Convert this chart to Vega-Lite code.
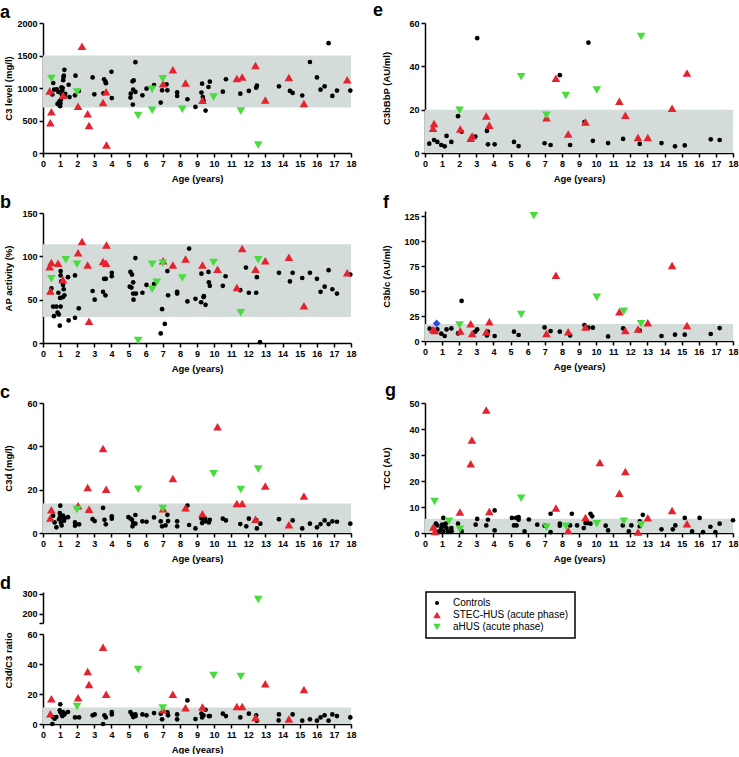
{
"$schema":"https://vega.github.io/schema/vega-lite/v6.json",
"padding":{"left":0,"top":2,"right":0,"bottom":0},
"background":"white",
"config":{
 "view":{"stroke":null},
 "font":"Liberation Sans",
 "axis":{"domainColor":"#000","domainWidth":1.5,"tickColor":"#000","tickWidth":1.5,"tickSize":4,"labelFont":"Liberation Sans","labelFontSize":9,"labelFontWeight":"bold","labelColor":"#000","labelPadding":2,"titleFont":"Liberation Sans","titleFontSize":9.5,"titleFontWeight":"bold","titleColor":"#000","grid":false,"format":"d"},
 "axisX":{"titlePadding":5,"labelFlush":false,"labelOverlap":false},
 "axisY":{"titleX":-30,"labelOverlap":false},
 "title":{"anchor":"start","frame":"group","fontSize":18,"fontWeight":"bold","font":"Liberation Sans","color":"#000","offset":-3,"baseline":"alphabetic"},
 "legend":{"orient":"none","legendX":383,"legendY":569,"strokeColor":"#000","strokeWidth":1.5,"padding":6,"labelFont":"Liberation Sans","labelFontSize":10,"labelColor":"#000","rowPadding":2,"labelOffset":11,"symbolStrokeWidth":0}
},
"datasets":{
"a":[
{"x":0.6,"y":1077,"g":"Controls"},{"x":0.65,"y":975,"g":"Controls"},{"x":0.55,"y":900,"g":"Controls"},{"x":0.8,"y":980,"g":"Controls"},{"x":0.85,"y":755,"g":"Controls"},{"x":0.9,"y":940,"g":"Controls"},{"x":0.95,"y":790,"g":"Controls"},{"x":1.0,"y":720,"g":"Controls"},{"x":1.02,"y":760,"g":"Controls"},{"x":1.05,"y":820,"g":"Controls"},{"x":1.08,"y":1010,"g":"Controls"},{"x":1.1,"y":900,"g":"Controls"},{"x":1.12,"y":960,"g":"Controls"},{"x":1.15,"y":1000,"g":"Controls"},{"x":1.18,"y":1120,"g":"Controls"},{"x":1.2,"y":1170,"g":"Controls"},{"x":1.25,"y":1280,"g":"Controls"},{"x":1.22,"y":1190,"g":"Controls"},{"x":1.25,"y":870,"g":"Controls"},{"x":1.3,"y":910,"g":"Controls"},{"x":1.5,"y":1050,"g":"Controls"},{"x":1.55,"y":860,"g":"Controls"},{"x":1.87,"y":888,"g":"Controls"},{"x":1.9,"y":1189,"g":"Controls"},{"x":2.09,"y":954,"g":"Controls"},{"x":2.9,"y":1163,"g":"Controls"},{"x":3.0,"y":903,"g":"Controls"},{"x":3.53,"y":918,"g":"Controls"},{"x":3.57,"y":1133,"g":"Controls"},{"x":3.65,"y":1097,"g":"Controls"},{"x":3.68,"y":1075,"g":"Controls"},{"x":4.0,"y":1250,"g":"Controls"},{"x":4.02,"y":845,"g":"Controls"},{"x":5.11,"y":852,"g":"Controls"},{"x":5.13,"y":913,"g":"Controls"},{"x":5.23,"y":1102,"g":"Controls"},{"x":5.3,"y":1117,"g":"Controls"},{"x":5.27,"y":975,"g":"Controls"},{"x":5.25,"y":745,"g":"Controls"},{"x":5.4,"y":1398,"g":"Controls"},{"x":5.4,"y":939,"g":"Controls"},{"x":5.81,"y":888,"g":"Controls"},{"x":6.05,"y":990,"g":"Controls"},{"x":6.49,"y":1045,"g":"Controls"},{"x":6.88,"y":776,"g":"Controls"},{"x":6.96,"y":964,"g":"Controls"},{"x":7.22,"y":1056,"g":"Controls"},{"x":7.27,"y":964,"g":"Controls"},{"x":7.84,"y":934,"g":"Controls"},{"x":7.84,"y":878,"g":"Controls"},{"x":8.44,"y":827,"g":"Controls"},{"x":8.91,"y":709,"g":"Controls"},{"x":9.26,"y":929,"g":"Controls"},{"x":9.3,"y":1066,"g":"Controls"},{"x":9.34,"y":862,"g":"Controls"},{"x":9.38,"y":806,"g":"Controls"},{"x":9.5,"y":653,"g":"Controls"},{"x":9.67,"y":1015,"g":"Controls"},{"x":9.75,"y":1097,"g":"Controls"},{"x":10.51,"y":944,"g":"Controls"},{"x":10.69,"y":1135,"g":"Controls"},{"x":11.53,"y":913,"g":"Controls"},{"x":12.03,"y":955,"g":"Controls"},{"x":12.46,"y":1005,"g":"Controls"},{"x":12.5,"y":1036,"g":"Controls"},{"x":13.79,"y":1026,"g":"Controls"},{"x":14.43,"y":955,"g":"Controls"},{"x":14.59,"y":925,"g":"Controls"},{"x":15.15,"y":885,"g":"Controls"},{"x":15.6,"y":1400,"g":"Controls"},{"x":16.01,"y":1163,"g":"Controls"},{"x":16.22,"y":975,"g":"Controls"},{"x":16.46,"y":1026,"g":"Controls"},{"x":16.69,"y":1689,"g":"Controls"},{"x":16.91,"y":878,"g":"Controls"},{"x":17.18,"y":960,"g":"Controls"},{"x":17.96,"y":960,"g":"Controls"},
{"x":0.39,"y":954,"g":"STEC-HUS (acute phase)"},{"x":0.49,"y":633,"g":"STEC-HUS (acute phase)"},{"x":0.43,"y":464,"g":"STEC-HUS (acute phase)"},{"x":1.17,"y":888,"g":"STEC-HUS (acute phase)"},{"x":2.28,"y":1643,"g":"STEC-HUS (acute phase)"},{"x":2.05,"y":720,"g":"STEC-HUS (acute phase)"},{"x":2.61,"y":602,"g":"STEC-HUS (acute phase)"},{"x":2.69,"y":423,"g":"STEC-HUS (acute phase)"},{"x":3.51,"y":776,"g":"STEC-HUS (acute phase)"},{"x":3.69,"y":944,"g":"STEC-HUS (acute phase)"},{"x":3.71,"y":122,"g":"STEC-HUS (acute phase)"},{"x":7.02,"y":1066,"g":"STEC-HUS (acute phase)"},{"x":7.59,"y":1281,"g":"STEC-HUS (acute phase)"},{"x":8.33,"y":1077,"g":"STEC-HUS (acute phase)"},{"x":9.32,"y":811,"g":"STEC-HUS (acute phase)"},{"x":11.33,"y":1148,"g":"STEC-HUS (acute phase)"},{"x":11.64,"y":1168,"g":"STEC-HUS (acute phase)"},{"x":12.42,"y":1347,"g":"STEC-HUS (acute phase)"},{"x":12.99,"y":816,"g":"STEC-HUS (acute phase)"},{"x":14.37,"y":1163,"g":"STEC-HUS (acute phase)"},{"x":15.25,"y":760,"g":"STEC-HUS (acute phase)"},{"x":17.78,"y":1128,"g":"STEC-HUS (acute phase)"},
{"x":0.49,"y":1148,"g":"aHUS (acute phase)"},{"x":1.99,"y":939,"g":"aHUS (acute phase)"},{"x":5.56,"y":577,"g":"aHUS (acute phase)"},{"x":6.38,"y":980,"g":"aHUS (acute phase)"},{"x":6.38,"y":658,"g":"aHUS (acute phase)"},{"x":7.0,"y":1143,"g":"aHUS (acute phase)"},{"x":8.14,"y":673,"g":"aHUS (acute phase)"},{"x":9.97,"y":862,"g":"aHUS (acute phase)"},{"x":11.56,"y":648,"g":"aHUS (acute phase)"},{"x":12.58,"y":122,"g":"aHUS (acute phase)"}
],
"b":[
{"x":0.49,"y":63,"g":"Controls"},{"x":0.59,"y":42,"g":"Controls"},{"x":0.64,"y":31,"g":"Controls"},{"x":0.78,"y":42,"g":"Controls"},{"x":0.9,"y":58,"g":"Controls"},{"x":0.85,"y":35,"g":"Controls"},{"x":1.03,"y":83,"g":"Controls"},{"x":1.03,"y":78,"g":"Controls"},{"x":1.0,"y":52,"g":"Controls"},{"x":1.03,"y":42,"g":"Controls"},{"x":0.98,"y":20,"g":"Controls"},{"x":0.92,"y":33,"g":"Controls"},{"x":1.07,"y":71,"g":"Controls"},{"x":1.17,"y":67,"g":"Controls"},{"x":1.21,"y":62,"g":"Controls"},{"x":1.25,"y":55,"g":"Controls"},{"x":1.17,"y":53,"g":"Controls"},{"x":1.46,"y":76,"g":"Controls"},{"x":1.5,"y":26,"g":"Controls"},{"x":1.87,"y":78,"g":"Controls"},{"x":1.87,"y":29,"g":"Controls"},{"x":2.09,"y":40,"g":"Controls"},{"x":2.9,"y":60,"g":"Controls"},{"x":3.02,"y":50,"g":"Controls"},{"x":3.51,"y":59,"g":"Controls"},{"x":3.57,"y":74,"g":"Controls"},{"x":3.67,"y":74,"g":"Controls"},{"x":3.65,"y":55,"g":"Controls"},{"x":4.02,"y":77,"g":"Controls"},{"x":4.02,"y":81,"g":"Controls"},{"x":5.11,"y":82,"g":"Controls"},{"x":5.2,"y":79,"g":"Controls"},{"x":5.27,"y":70,"g":"Controls"},{"x":5.4,"y":98,"g":"Controls"},{"x":5.27,"y":57,"g":"Controls"},{"x":5.29,"y":50,"g":"Controls"},{"x":5.43,"y":57,"g":"Controls"},{"x":5.07,"y":65,"g":"Controls"},{"x":5.17,"y":64,"g":"Controls"},{"x":5.81,"y":58,"g":"Controls"},{"x":6.05,"y":67,"g":"Controls"},{"x":6.49,"y":68,"g":"Controls"},{"x":6.88,"y":11,"g":"Controls"},{"x":6.96,"y":39,"g":"Controls"},{"x":7.12,"y":22,"g":"Controls"},{"x":7.27,"y":83,"g":"Controls"},{"x":7.31,"y":55,"g":"Controls"},{"x":7.84,"y":59,"g":"Controls"},{"x":7.84,"y":57,"g":"Controls"},{"x":8.44,"y":48,"g":"Controls"},{"x":8.54,"y":109,"g":"Controls"},{"x":8.91,"y":51,"g":"Controls"},{"x":9.26,"y":80,"g":"Controls"},{"x":9.24,"y":47,"g":"Controls"},{"x":9.38,"y":53,"g":"Controls"},{"x":9.4,"y":54,"g":"Controls"},{"x":9.5,"y":44,"g":"Controls"},{"x":9.67,"y":82,"g":"Controls"},{"x":9.69,"y":70,"g":"Controls"},{"x":9.75,"y":66,"g":"Controls"},{"x":10.51,"y":66,"g":"Controls"},{"x":10.67,"y":77,"g":"Controls"},{"x":11.53,"y":61,"g":"Controls"},{"x":11.86,"y":87,"g":"Controls"},{"x":12.03,"y":58,"g":"Controls"},{"x":12.46,"y":58,"g":"Controls"},{"x":12.5,"y":76,"g":"Controls"},{"x":12.68,"y":1,"g":"Controls"},{"x":13.79,"y":81,"g":"Controls"},{"x":14.43,"y":71,"g":"Controls"},{"x":14.59,"y":81,"g":"Controls"},{"x":15.15,"y":75,"g":"Controls"},{"x":15.6,"y":81,"g":"Controls"},{"x":16.01,"y":74,"g":"Controls"},{"x":16.22,"y":59,"g":"Controls"},{"x":16.46,"y":65,"g":"Controls"},{"x":16.69,"y":84,"g":"Controls"},{"x":16.91,"y":62,"g":"Controls"},{"x":17.18,"y":57,"g":"Controls"},{"x":17.96,"y":79,"g":"Controls"},
{"x":0.39,"y":88,"g":"STEC-HUS (acute phase)"},{"x":0.49,"y":93,"g":"STEC-HUS (acute phase)"},{"x":0.43,"y":60,"g":"STEC-HUS (acute phase)"},{"x":0.88,"y":92,"g":"STEC-HUS (acute phase)"},{"x":1.17,"y":73,"g":"STEC-HUS (acute phase)"},{"x":2.28,"y":117,"g":"STEC-HUS (acute phase)"},{"x":2.05,"y":104,"g":"STEC-HUS (acute phase)"},{"x":2.61,"y":90,"g":"STEC-HUS (acute phase)"},{"x":2.69,"y":25,"g":"STEC-HUS (acute phase)"},{"x":3.51,"y":94,"g":"STEC-HUS (acute phase)"},{"x":3.69,"y":92,"g":"STEC-HUS (acute phase)"},{"x":3.71,"y":113,"g":"STEC-HUS (acute phase)"},{"x":7.02,"y":95,"g":"STEC-HUS (acute phase)"},{"x":7.59,"y":90,"g":"STEC-HUS (acute phase)"},{"x":8.33,"y":97,"g":"STEC-HUS (acute phase)"},{"x":9.32,"y":90,"g":"STEC-HUS (acute phase)"},{"x":10.2,"y":85,"g":"STEC-HUS (acute phase)"},{"x":11.33,"y":64,"g":"STEC-HUS (acute phase)"},{"x":11.64,"y":109,"g":"STEC-HUS (acute phase)"},{"x":12.42,"y":85,"g":"STEC-HUS (acute phase)"},{"x":12.99,"y":95,"g":"STEC-HUS (acute phase)"},{"x":14.37,"y":99,"g":"STEC-HUS (acute phase)"},{"x":15.25,"y":43,"g":"STEC-HUS (acute phase)"},{"x":17.78,"y":81,"g":"STEC-HUS (acute phase)"},
{"x":0.49,"y":74,"g":"aHUS (acute phase)"},{"x":1.33,"y":96,"g":"aHUS (acute phase)"},{"x":1.99,"y":91,"g":"aHUS (acute phase)"},{"x":5.56,"y":3,"g":"aHUS (acute phase)"},{"x":6.38,"y":91,"g":"aHUS (acute phase)"},{"x":6.38,"y":62,"g":"aHUS (acute phase)"},{"x":6.65,"y":70,"g":"aHUS (acute phase)"},{"x":7.0,"y":92,"g":"aHUS (acute phase)"},{"x":8.14,"y":75,"g":"aHUS (acute phase)"},{"x":9.97,"y":93,"g":"aHUS (acute phase)"},{"x":11.56,"y":35,"g":"aHUS (acute phase)"},{"x":12.58,"y":96,"g":"aHUS (acute phase)"}
],
"c":[
{"x":1.01,"y":12.6,"g":"Controls"},{"x":0.59,"y":8,"g":"Controls"},{"x":0.68,"y":4.9,"g":"Controls"},{"x":0.78,"y":2.6,"g":"Controls"},{"x":0.94,"y":6.4,"g":"Controls"},{"x":0.98,"y":9.2,"g":"Controls"},{"x":1.01,"y":7.7,"g":"Controls"},{"x":1.05,"y":4.9,"g":"Controls"},{"x":1.09,"y":3.5,"g":"Controls"},{"x":1.13,"y":6.4,"g":"Controls"},{"x":1.17,"y":8,"g":"Controls"},{"x":1.23,"y":5.7,"g":"Controls"},{"x":1.27,"y":6.9,"g":"Controls"},{"x":1.46,"y":7.3,"g":"Controls"},{"x":1.87,"y":4.9,"g":"Controls"},{"x":1.87,"y":3.4,"g":"Controls"},{"x":2.11,"y":4,"g":"Controls"},{"x":2.9,"y":6.4,"g":"Controls"},{"x":3.02,"y":5.5,"g":"Controls"},{"x":3.51,"y":11.6,"g":"Controls"},{"x":3.59,"y":6.1,"g":"Controls"},{"x":3.67,"y":4,"g":"Controls"},{"x":4.02,"y":7.7,"g":"Controls"},{"x":4.02,"y":6.6,"g":"Controls"},{"x":4.99,"y":7.3,"g":"Controls"},{"x":5.11,"y":6.7,"g":"Controls"},{"x":5.2,"y":6.1,"g":"Controls"},{"x":5.23,"y":3.1,"g":"Controls"},{"x":5.27,"y":4.6,"g":"Controls"},{"x":5.4,"y":8.3,"g":"Controls"},{"x":5.4,"y":4.3,"g":"Controls"},{"x":5.81,"y":5.4,"g":"Controls"},{"x":6.05,"y":5.2,"g":"Controls"},{"x":6.49,"y":7.2,"g":"Controls"},{"x":6.88,"y":5.4,"g":"Controls"},{"x":6.96,"y":3.1,"g":"Controls"},{"x":7.16,"y":3.5,"g":"Controls"},{"x":7.27,"y":8.4,"g":"Controls"},{"x":7.31,"y":5.5,"g":"Controls"},{"x":7.84,"y":5.4,"g":"Controls"},{"x":7.84,"y":3.1,"g":"Controls"},{"x":8.44,"y":12.7,"g":"Controls"},{"x":8.54,"y":3.7,"g":"Controls"},{"x":8.91,"y":2.1,"g":"Controls"},{"x":9.26,"y":6.7,"g":"Controls"},{"x":9.3,"y":4.6,"g":"Controls"},{"x":9.38,"y":6.1,"g":"Controls"},{"x":9.48,"y":6.6,"g":"Controls"},{"x":9.5,"y":5.4,"g":"Controls"},{"x":9.69,"y":4.9,"g":"Controls"},{"x":9.75,"y":6.1,"g":"Controls"},{"x":10.51,"y":6.6,"g":"Controls"},{"x":10.69,"y":5.8,"g":"Controls"},{"x":11.53,"y":4.1,"g":"Controls"},{"x":11.88,"y":3.1,"g":"Controls"},{"x":12.03,"y":6.6,"g":"Controls"},{"x":12.46,"y":6,"g":"Controls"},{"x":12.5,"y":2.1,"g":"Controls"},{"x":12.7,"y":4.3,"g":"Controls"},{"x":13.79,"y":6.4,"g":"Controls"},{"x":14.59,"y":5.8,"g":"Controls"},{"x":15.15,"y":2.1,"g":"Controls"},{"x":15.6,"y":4.3,"g":"Controls"},{"x":16.01,"y":2.6,"g":"Controls"},{"x":16.22,"y":4.1,"g":"Controls"},{"x":16.46,"y":5.8,"g":"Controls"},{"x":16.69,"y":4.1,"g":"Controls"},{"x":16.91,"y":5.4,"g":"Controls"},{"x":17.18,"y":5.2,"g":"Controls"},{"x":17.96,"y":4.3,"g":"Controls"},
{"x":0.49,"y":10.7,"g":"STEC-HUS (acute phase)"},{"x":0.43,"y":6.9,"g":"STEC-HUS (acute phase)"},{"x":2.05,"y":12.6,"g":"STEC-HUS (acute phase)"},{"x":2.61,"y":21,"g":"STEC-HUS (acute phase)"},{"x":2.69,"y":11,"g":"STEC-HUS (acute phase)"},{"x":3.51,"y":39,"g":"STEC-HUS (acute phase)"},{"x":3.69,"y":20.2,"g":"STEC-HUS (acute phase)"},{"x":7.02,"y":11.2,"g":"STEC-HUS (acute phase)"},{"x":7.59,"y":25.1,"g":"STEC-HUS (acute phase)"},{"x":8.33,"y":11.6,"g":"STEC-HUS (acute phase)"},{"x":9.32,"y":8.9,"g":"STEC-HUS (acute phase)"},{"x":10.2,"y":49,"g":"STEC-HUS (acute phase)"},{"x":11.33,"y":13.6,"g":"STEC-HUS (acute phase)"},{"x":11.64,"y":13.6,"g":"STEC-HUS (acute phase)"},{"x":12.42,"y":6.3,"g":"STEC-HUS (acute phase)"},{"x":12.99,"y":21.7,"g":"STEC-HUS (acute phase)"},{"x":14.37,"y":3.8,"g":"STEC-HUS (acute phase)"},{"x":15.25,"y":17.1,"g":"STEC-HUS (acute phase)"},
{"x":1.99,"y":10.9,"g":"aHUS (acute phase)"},{"x":5.56,"y":20.2,"g":"aHUS (acute phase)"},{"x":7.0,"y":11.3,"g":"aHUS (acute phase)"},{"x":9.97,"y":27.4,"g":"aHUS (acute phase)"},{"x":11.56,"y":20.1,"g":"aHUS (acute phase)"},{"x":12.58,"y":29.5,"g":"aHUS (acute phase)"}
],
"d":[
{"x":1.01,"y":13.1,"g":"Controls"},{"x":0.59,"y":4.6,"g":"Controls"},{"x":0.55,"y":0,"g":"Controls"},{"x":0.68,"y":3.5,"g":"Controls"},{"x":0.78,"y":4.6,"g":"Controls"},{"x":0.98,"y":9.1,"g":"Controls"},{"x":1.01,"y":8,"g":"Controls"},{"x":1.07,"y":6.9,"g":"Controls"},{"x":1.13,"y":5.3,"g":"Controls"},{"x":1.17,"y":8,"g":"Controls"},{"x":1.23,"y":6.2,"g":"Controls"},{"x":1.27,"y":6.9,"g":"Controls"},{"x":1.46,"y":8,"g":"Controls"},{"x":1.87,"y":4.4,"g":"Controls"},{"x":2.11,"y":4.4,"g":"Controls"},{"x":2.9,"y":5.8,"g":"Controls"},{"x":3.02,"y":6.4,"g":"Controls"},{"x":3.51,"y":0,"g":"Controls"},{"x":3.59,"y":5.8,"g":"Controls"},{"x":3.67,"y":4.4,"g":"Controls"},{"x":4.02,"y":8,"g":"Controls"},{"x":4.02,"y":6.4,"g":"Controls"},{"x":5.11,"y":8,"g":"Controls"},{"x":5.2,"y":6.4,"g":"Controls"},{"x":5.27,"y":4.6,"g":"Controls"},{"x":5.4,"y":6.4,"g":"Controls"},{"x":5.41,"y":5.3,"g":"Controls"},{"x":5.81,"y":6.4,"g":"Controls"},{"x":6.05,"y":5.8,"g":"Controls"},{"x":6.49,"y":7.3,"g":"Controls"},{"x":6.88,"y":6.9,"g":"Controls"},{"x":6.96,"y":3.1,"g":"Controls"},{"x":7.27,"y":7.7,"g":"Controls"},{"x":7.31,"y":5.8,"g":"Controls"},{"x":7.84,"y":6.4,"g":"Controls"},{"x":7.84,"y":3.1,"g":"Controls"},{"x":8.44,"y":15.7,"g":"Controls"},{"x":8.91,"y":3.3,"g":"Controls"},{"x":9.26,"y":6.9,"g":"Controls"},{"x":9.3,"y":4.4,"g":"Controls"},{"x":9.38,"y":5.8,"g":"Controls"},{"x":9.5,"y":9.5,"g":"Controls"},{"x":9.69,"y":5.3,"g":"Controls"},{"x":9.75,"y":5.3,"g":"Controls"},{"x":10.51,"y":6.9,"g":"Controls"},{"x":10.69,"y":5.3,"g":"Controls"},{"x":11.53,"y":4.4,"g":"Controls"},{"x":12.03,"y":6.9,"g":"Controls"},{"x":12.46,"y":5.8,"g":"Controls"},{"x":12.5,"y":2.2,"g":"Controls"},{"x":13.79,"y":6.4,"g":"Controls"},{"x":13.77,"y":2.4,"g":"Controls"},{"x":14.59,"y":6.4,"g":"Controls"},{"x":15.15,"y":2.2,"g":"Controls"},{"x":15.6,"y":3.1,"g":"Controls"},{"x":16.01,"y":2.2,"g":"Controls"},{"x":16.22,"y":4.4,"g":"Controls"},{"x":16.46,"y":5.8,"g":"Controls"},{"x":16.69,"y":2.2,"g":"Controls"},{"x":16.91,"y":6.4,"g":"Controls"},{"x":17.18,"y":5.3,"g":"Controls"},{"x":17.96,"y":4.4,"g":"Controls"},
{"x":0.49,"y":16.8,"g":"STEC-HUS (acute phase)"},{"x":0.43,"y":6.9,"g":"STEC-HUS (acute phase)"},{"x":2.05,"y":17.5,"g":"STEC-HUS (acute phase)"},{"x":2.61,"y":35,"g":"STEC-HUS (acute phase)"},{"x":2.69,"y":26.3,"g":"STEC-HUS (acute phase)"},{"x":3.51,"y":51.1,"g":"STEC-HUS (acute phase)"},{"x":3.69,"y":19.9,"g":"STEC-HUS (acute phase)"},{"x":7.02,"y":9.5,"g":"STEC-HUS (acute phase)"},{"x":7.59,"y":19.9,"g":"STEC-HUS (acute phase)"},{"x":8.33,"y":10.8,"g":"STEC-HUS (acute phase)"},{"x":9.32,"y":11.3,"g":"STEC-HUS (acute phase)"},{"x":11.33,"y":11.7,"g":"STEC-HUS (acute phase)"},{"x":11.64,"y":11.7,"g":"STEC-HUS (acute phase)"},{"x":12.42,"y":4.4,"g":"STEC-HUS (acute phase)"},{"x":12.99,"y":26.8,"g":"STEC-HUS (acute phase)"},{"x":14.37,"y":3.3,"g":"STEC-HUS (acute phase)"},{"x":15.25,"y":23,"g":"STEC-HUS (acute phase)"},
{"x":1.99,"y":11.7,"g":"aHUS (acute phase)"},{"x":5.56,"y":36.3,"g":"aHUS (acute phase)"},{"x":7.0,"y":10.6,"g":"aHUS (acute phase)"},{"x":9.97,"y":32.3,"g":"aHUS (acute phase)"},{"x":11.56,"y":31.7,"g":"aHUS (acute phase)"},{"x":12.58,"y":270,"g":"aHUS (acute phase)"}
],
"e":[
{"x":0.25,"y":4.3,"g":"Controls"},{"x":0.53,"y":6,"g":"Controls"},{"x":0.72,"y":5.1,"g":"Controls"},{"x":0.95,"y":3.7,"g":"Controls"},{"x":1.15,"y":3.1,"g":"Controls"},{"x":1.26,"y":7.9,"g":"Controls"},{"x":1.54,"y":5.1,"g":"Controls"},{"x":1.93,"y":17,"g":"Controls"},{"x":2.14,"y":9.8,"g":"Controls"},{"x":2.94,"y":7.6,"g":"Controls"},{"x":3.05,"y":53,"g":"Controls"},{"x":3.62,"y":10.2,"g":"Controls"},{"x":3.68,"y":4,"g":"Controls"},{"x":4.07,"y":4,"g":"Controls"},{"x":5.2,"y":5.1,"g":"Controls"},{"x":5.47,"y":3.2,"g":"Controls"},{"x":6.99,"y":4.5,"g":"Controls"},{"x":7.34,"y":3.7,"g":"Controls"},{"x":7.88,"y":35.9,"g":"Controls"},{"x":8.48,"y":3.7,"g":"Controls"},{"x":9.32,"y":14.3,"g":"Controls"},{"x":9.55,"y":50.9,"g":"Controls"},{"x":9.81,"y":5.6,"g":"Controls"},{"x":10.7,"y":4.6,"g":"Controls"},{"x":11.58,"y":6.5,"g":"Controls"},{"x":12.55,"y":4.2,"g":"Controls"},{"x":13.82,"y":4.6,"g":"Controls"},{"x":14.61,"y":3.1,"g":"Controls"},{"x":15.18,"y":3.5,"g":"Controls"},{"x":16.7,"y":6.3,"g":"Controls"},{"x":17.22,"y":6,"g":"Controls"},
{"x":0.53,"y":13.6,"g":"STEC-HUS (acute phase)"},{"x":0.47,"y":11.4,"g":"STEC-HUS (acute phase)"},{"x":2.06,"y":11.1,"g":"STEC-HUS (acute phase)"},{"x":2.67,"y":6.8,"g":"STEC-HUS (acute phase)"},{"x":2.76,"y":7.9,"g":"STEC-HUS (acute phase)"},{"x":3.58,"y":17.1,"g":"STEC-HUS (acute phase)"},{"x":3.76,"y":12.8,"g":"STEC-HUS (acute phase)"},{"x":7.1,"y":16.3,"g":"STEC-HUS (acute phase)"},{"x":7.65,"y":34.5,"g":"STEC-HUS (acute phase)"},{"x":8.37,"y":8.8,"g":"STEC-HUS (acute phase)"},{"x":9.38,"y":14.3,"g":"STEC-HUS (acute phase)"},{"x":11.36,"y":23.9,"g":"STEC-HUS (acute phase)"},{"x":11.71,"y":17.4,"g":"STEC-HUS (acute phase)"},{"x":12.45,"y":7.2,"g":"STEC-HUS (acute phase)"},{"x":13.02,"y":7.2,"g":"STEC-HUS (acute phase)"},{"x":14.44,"y":20.7,"g":"STEC-HUS (acute phase)"},{"x":15.31,"y":36.9,"g":"STEC-HUS (acute phase)"},
{"x":2.02,"y":19.7,"g":"aHUS (acute phase)"},{"x":5.62,"y":35.2,"g":"aHUS (acute phase)"},{"x":7.1,"y":17.4,"g":"aHUS (acute phase)"},{"x":8.23,"y":26.5,"g":"aHUS (acute phase)"},{"x":10.04,"y":29.1,"g":"aHUS (acute phase)"},{"x":12.63,"y":53.8,"g":"aHUS (acute phase)"}
],
"f":[
{"x":0.27,"y":12.3,"g":"Controls"},{"x":0.53,"y":10.6,"g":"Controls"},{"x":0.72,"y":11.6,"g":"Controls"},{"x":0.95,"y":7.3,"g":"Controls"},{"x":1.15,"y":5,"g":"Controls"},{"x":1.26,"y":11.6,"g":"Controls"},{"x":1.54,"y":12.6,"g":"Controls"},{"x":1.93,"y":7.6,"g":"Controls"},{"x":2.14,"y":40.1,"g":"Controls"},{"x":2.94,"y":9.3,"g":"Controls"},{"x":3.05,"y":11.6,"g":"Controls"},{"x":3.62,"y":5.6,"g":"Controls"},{"x":3.68,"y":9.3,"g":"Controls"},{"x":4.07,"y":5,"g":"Controls"},{"x":5.2,"y":9.3,"g":"Controls"},{"x":5.47,"y":6,"g":"Controls"},{"x":6.99,"y":13.6,"g":"Controls"},{"x":7.34,"y":9.9,"g":"Controls"},{"x":7.88,"y":9.3,"g":"Controls"},{"x":8.48,"y":5.6,"g":"Controls"},{"x":9.32,"y":15.9,"g":"Controls"},{"x":9.55,"y":13.3,"g":"Controls"},{"x":9.81,"y":13.3,"g":"Controls"},{"x":10.7,"y":4.6,"g":"Controls"},{"x":11.58,"y":12.6,"g":"Controls"},{"x":12.55,"y":10.3,"g":"Controls"},{"x":13.82,"y":5,"g":"Controls"},{"x":14.61,"y":6.3,"g":"Controls"},{"x":15.18,"y":6.3,"g":"Controls"},{"x":16.7,"y":7,"g":"Controls"},{"x":17.22,"y":12.9,"g":"Controls"},
{"x":0.47,"y":11.6,"g":"STEC-HUS (acute phase)"},{"x":0.57,"y":10.6,"g":"STEC-HUS (acute phase)"},{"x":2.06,"y":9.9,"g":"STEC-HUS (acute phase)"},{"x":2.67,"y":17.2,"g":"STEC-HUS (acute phase)"},{"x":2.76,"y":7.6,"g":"STEC-HUS (acute phase)"},{"x":3.58,"y":9.3,"g":"STEC-HUS (acute phase)"},{"x":3.76,"y":19.2,"g":"STEC-HUS (acute phase)"},{"x":7.1,"y":7.6,"g":"STEC-HUS (acute phase)"},{"x":7.65,"y":65.7,"g":"STEC-HUS (acute phase)"},{"x":8.37,"y":9.3,"g":"STEC-HUS (acute phase)"},{"x":9.38,"y":13.9,"g":"STEC-HUS (acute phase)"},{"x":11.36,"y":29.2,"g":"STEC-HUS (acute phase)"},{"x":11.71,"y":10.6,"g":"STEC-HUS (acute phase)"},{"x":12.45,"y":11.9,"g":"STEC-HUS (acute phase)"},{"x":13.02,"y":18.2,"g":"STEC-HUS (acute phase)"},{"x":14.44,"y":75.6,"g":"STEC-HUS (acute phase)"},{"x":15.31,"y":15.6,"g":"STEC-HUS (acute phase)"},
{"x":2.02,"y":15.9,"g":"aHUS (acute phase)"},{"x":5.62,"y":26.5,"g":"aHUS (acute phase)"},{"x":6.36,"y":125.3,"g":"aHUS (acute phase)"},{"x":10.04,"y":43.8,"g":"aHUS (acute phase)"},{"x":11.62,"y":29.8,"g":"aHUS (acute phase)"},{"x":12.63,"y":17.2,"g":"aHUS (acute phase)"},
{"x":0.68,"y":17.6,"g":"Other"}
],
"g":[
{"x":0.64,"y":3.6,"g":"Controls"},{"x":0.72,"y":2.9,"g":"Controls"},{"x":0.82,"y":0.6,"g":"Controls"},{"x":0.95,"y":1.9,"g":"Controls"},{"x":1.07,"y":5.8,"g":"Controls"},{"x":1.0,"y":3.2,"g":"Controls"},{"x":1.07,"y":0.6,"g":"Controls"},{"x":1.15,"y":2.6,"g":"Controls"},{"x":1.21,"y":3.6,"g":"Controls"},{"x":1.26,"y":1.9,"g":"Controls"},{"x":1.34,"y":0.6,"g":"Controls"},{"x":1.54,"y":1.9,"g":"Controls"},{"x":1.56,"y":0.6,"g":"Controls"},{"x":1.93,"y":3.6,"g":"Controls"},{"x":2.14,"y":0.6,"g":"Controls"},{"x":2.96,"y":3.2,"g":"Controls"},{"x":3.05,"y":5.4,"g":"Controls"},{"x":3.58,"y":2.9,"g":"Controls"},{"x":3.68,"y":5.1,"g":"Controls"},{"x":4.07,"y":8.7,"g":"Controls"},{"x":4.07,"y":1,"g":"Controls"},{"x":5.08,"y":5.8,"g":"Controls"},{"x":5.2,"y":2.9,"g":"Controls"},{"x":5.33,"y":5.8,"g":"Controls"},{"x":5.35,"y":2.9,"g":"Controls"},{"x":5.47,"y":5.1,"g":"Controls"},{"x":5.47,"y":6.1,"g":"Controls"},{"x":5.82,"y":0.6,"g":"Controls"},{"x":6.07,"y":5.2,"g":"Controls"},{"x":6.56,"y":3.2,"g":"Controls"},{"x":6.99,"y":2.8,"g":"Controls"},{"x":7.34,"y":7.4,"g":"Controls"},{"x":7.34,"y":0.3,"g":"Controls"},{"x":7.88,"y":3.6,"g":"Controls"},{"x":7.88,"y":2.8,"g":"Controls"},{"x":8.48,"y":2.9,"g":"Controls"},{"x":8.58,"y":7.4,"g":"Controls"},{"x":8.89,"y":2.9,"g":"Controls"},{"x":9.28,"y":1.9,"g":"Controls"},{"x":9.38,"y":3.8,"g":"Controls"},{"x":9.48,"y":3.8,"g":"Controls"},{"x":9.67,"y":7.4,"g":"Controls"},{"x":9.77,"y":6.4,"g":"Controls"},{"x":9.67,"y":3.6,"g":"Controls"},{"x":10.56,"y":2.8,"g":"Controls"},{"x":10.7,"y":1,"g":"Controls"},{"x":11.56,"y":2.9,"g":"Controls"},{"x":11.91,"y":0.6,"g":"Controls"},{"x":12.06,"y":2.9,"g":"Controls"},{"x":12.55,"y":4.5,"g":"Controls"},{"x":12.55,"y":2.6,"g":"Controls"},{"x":12.73,"y":7,"g":"Controls"},{"x":13.82,"y":1.4,"g":"Controls"},{"x":14.48,"y":1.4,"g":"Controls"},{"x":14.63,"y":2.9,"g":"Controls"},{"x":15.18,"y":5.8,"g":"Controls"},{"x":15.61,"y":0.6,"g":"Controls"},{"x":16.05,"y":5.8,"g":"Controls"},{"x":16.25,"y":0.3,"g":"Controls"},{"x":16.68,"y":2.4,"g":"Controls"},{"x":16.97,"y":0.3,"g":"Controls"},{"x":17.22,"y":3.6,"g":"Controls"},{"x":18.0,"y":4.9,"g":"Controls"},
{"x":0.49,"y":2.3,"g":"STEC-HUS (acute phase)"},{"x":0.58,"y":0.6,"g":"STEC-HUS (acute phase)"},{"x":2.04,"y":8.1,"g":"STEC-HUS (acute phase)"},{"x":2.67,"y":26.6,"g":"STEC-HUS (acute phase)"},{"x":2.74,"y":35.8,"g":"STEC-HUS (acute phase)"},{"x":3.58,"y":47.3,"g":"STEC-HUS (acute phase)"},{"x":3.76,"y":8.3,"g":"STEC-HUS (acute phase)"},{"x":7.65,"y":9.6,"g":"STEC-HUS (acute phase)"},{"x":8.37,"y":1,"g":"STEC-HUS (acute phase)"},{"x":9.38,"y":6,"g":"STEC-HUS (acute phase)"},{"x":10.22,"y":27.1,"g":"STEC-HUS (acute phase)"},{"x":11.36,"y":15.3,"g":"STEC-HUS (acute phase)"},{"x":11.71,"y":23.7,"g":"STEC-HUS (acute phase)"},{"x":12.45,"y":0.4,"g":"STEC-HUS (acute phase)"},{"x":13.02,"y":5.9,"g":"STEC-HUS (acute phase)"},{"x":14.44,"y":8.7,"g":"STEC-HUS (acute phase)"},{"x":15.31,"y":3.6,"g":"STEC-HUS (acute phase)"},
{"x":0.56,"y":12.1,"g":"aHUS (acute phase)"},{"x":1.4,"y":4.5,"g":"aHUS (acute phase)"},{"x":2.04,"y":1.4,"g":"aHUS (acute phase)"},{"x":5.62,"y":13.4,"g":"aHUS (acute phase)"},{"x":7.1,"y":2.2,"g":"aHUS (acute phase)"},{"x":8.23,"y":2.6,"g":"aHUS (acute phase)"},{"x":10.04,"y":3.6,"g":"aHUS (acute phase)"},{"x":11.62,"y":4.5,"g":"aHUS (acute phase)"},{"x":12.63,"y":3.2,"g":"aHUS (acute phase)"}
]
},
"spacing":16,
"hconcat":[
{"spacing":11,"vconcat":[
 {"title":{"text":"a","dx":-43},"width":308,"height":130,"data":{"name":"a"},
  "layer":[
   {"data":{"values":[{"lo":700,"hi":1500}]},"mark":{"type":"rect","color":"#d3dcd9"},"encoding":{
     "x":{"datum":0,"type":"quantitative","title":"Age (years)","scale":{"domain":[0,18],"nice":false},"axis":{"values":[0,1,2,3,4,5,6,7,8,9,10,11,12,13,14,15,16,17,18]}},"x2":{"datum":18},
     "y":{"field":"lo","type":"quantitative","title":"C3 level (mg/l)","scale":{"domain":[0,2000],"nice":false},"axis":{"values":[0,500,1000,1500,2000]}},"y2":{"field":"hi"}}},
   {"mark":{"type":"point","filled":true,"opacity":1,"strokeWidth":0},
    "encoding":{
     "x":{"field":"x","type":"quantitative","title":"Age (years)","scale":{"domain":[0,18],"nice":false},"axis":{"values":[0,1,2,3,4,5,6,7,8,9,10,11,12,13,14,15,16,17,18]}},
     "y":{"field":"y","type":"quantitative","title":"C3 level (mg/l)","scale":{"domain":[0,2000],"nice":false},"axis":{"values":[0,500,1000,1500,2000]}},
     "color":{"field":"g","type":"nominal","scale":{"domain":["Controls","STEC-HUS (acute phase)","aHUS (acute phase)","Other"],"range":["#000000","#e52330","#48dc3c","#2f4fe0"]},"legend":{"title":null,"values":["Controls","STEC-HUS (acute phase)","aHUS (acute phase)"],"symbolSize":{"expr":"datum.value === 'Controls' ? 16 : 55"}}},
     "shape":{"field":"g","type":"nominal","scale":{"domain":["Controls","STEC-HUS (acute phase)","aHUS (acute phase)","Other"],"range":["circle","triangle-up","triangle-down","diamond"]},"legend":{"title":null,"values":["Controls","STEC-HUS (acute phase)","aHUS (acute phase)"],"symbolSize":{"expr":"datum.value === 'Controls' ? 16 : 55"}}},
     "size":{"condition":[{"test":"datum.g === 'Controls'","value":22},{"test":"datum.g === 'Other'","value":60}],"value":75}
    }}
  ]},
 {"title":{"text":"b","dx":-43},"width":308,"height":130,"data":{"name":"b"},
  "layer":[
   {"data":{"values":[{"lo":30,"hi":114}]},"mark":{"type":"rect","color":"#d3dcd9"},"encoding":{
     "x":{"datum":0,"type":"quantitative","title":"Age (years)","scale":{"domain":[0,18],"nice":false},"axis":{"values":[0,1,2,3,4,5,6,7,8,9,10,11,12,13,14,15,16,17,18]}},"x2":{"datum":18},
     "y":{"field":"lo","type":"quantitative","title":"AP activity (%)","scale":{"domain":[0,150],"nice":false},"axis":{"values":[0,50,100,150]}},"y2":{"field":"hi"}}},
   {"mark":{"type":"point","filled":true,"opacity":1,"strokeWidth":0},
    "encoding":{
     "x":{"field":"x","type":"quantitative","title":"Age (years)","scale":{"domain":[0,18],"nice":false},"axis":{"values":[0,1,2,3,4,5,6,7,8,9,10,11,12,13,14,15,16,17,18]}},
     "y":{"field":"y","type":"quantitative","title":"AP activity (%)","scale":{"domain":[0,150],"nice":false},"axis":{"values":[0,50,100,150]}},
     "color":{"field":"g","type":"nominal","scale":{"domain":["Controls","STEC-HUS (acute phase)","aHUS (acute phase)","Other"],"range":["#000000","#e52330","#48dc3c","#2f4fe0"]},"legend":{"title":null,"values":["Controls","STEC-HUS (acute phase)","aHUS (acute phase)"],"symbolSize":{"expr":"datum.value === 'Controls' ? 16 : 55"}}},
     "shape":{"field":"g","type":"nominal","scale":{"domain":["Controls","STEC-HUS (acute phase)","aHUS (acute phase)","Other"],"range":["circle","triangle-up","triangle-down","diamond"]},"legend":{"title":null,"values":["Controls","STEC-HUS (acute phase)","aHUS (acute phase)"],"symbolSize":{"expr":"datum.value === 'Controls' ? 16 : 55"}}},
     "size":{"condition":[{"test":"datum.g === 'Controls'","value":22},{"test":"datum.g === 'Other'","value":60}],"value":75}
    }}
  ]},
 {"title":{"text":"c","dx":-43},"width":308,"height":130,"data":{"name":"c"},
  "layer":[
   {"data":{"values":[{"lo":0,"hi":13.6}]},"mark":{"type":"rect","color":"#d3dcd9"},"encoding":{
     "x":{"datum":0,"type":"quantitative","title":"Age (years)","scale":{"domain":[0,18],"nice":false},"axis":{"values":[0,1,2,3,4,5,6,7,8,9,10,11,12,13,14,15,16,17,18]}},"x2":{"datum":18},
     "y":{"field":"lo","type":"quantitative","title":"C3d (mg/l)","scale":{"domain":[0,60],"nice":false},"axis":{"values":[0,20,40,60]}},"y2":{"field":"hi"}}},
   {"mark":{"type":"point","filled":true,"opacity":1,"strokeWidth":0},
    "encoding":{
     "x":{"field":"x","type":"quantitative","title":"Age (years)","scale":{"domain":[0,18],"nice":false},"axis":{"values":[0,1,2,3,4,5,6,7,8,9,10,11,12,13,14,15,16,17,18]}},
     "y":{"field":"y","type":"quantitative","title":"C3d (mg/l)","scale":{"domain":[0,60],"nice":false},"axis":{"values":[0,20,40,60]}},
     "color":{"field":"g","type":"nominal","scale":{"domain":["Controls","STEC-HUS (acute phase)","aHUS (acute phase)","Other"],"range":["#000000","#e52330","#48dc3c","#2f4fe0"]},"legend":{"title":null,"values":["Controls","STEC-HUS (acute phase)","aHUS (acute phase)"],"symbolSize":{"expr":"datum.value === 'Controls' ? 16 : 55"}}},
     "shape":{"field":"g","type":"nominal","scale":{"domain":["Controls","STEC-HUS (acute phase)","aHUS (acute phase)","Other"],"range":["circle","triangle-up","triangle-down","diamond"]},"legend":{"title":null,"values":["Controls","STEC-HUS (acute phase)","aHUS (acute phase)"],"symbolSize":{"expr":"datum.value === 'Controls' ? 16 : 55"}}},
     "size":{"condition":[{"test":"datum.g === 'Controls'","value":22},{"test":"datum.g === 'Other'","value":60}],"value":75}
    }}
  ]},
 {"spacing":2,"vconcat":[
  {"title":{"text":"d","dx":-43},"width":308,"height":31,"data":{"name":"d"},"transform":[{"filter":"datum.y > 100"}],
   "mark":{"type":"point","filled":true,"opacity":1,"strokeWidth":0},
   "encoding":{
     "x":{"field":"x","type":"quantitative","scale":{"domain":[0,18],"nice":false},"axis":null},
     "y":{"field":"y","type":"quantitative","title":null,"scale":{"domain":[153,308],"nice":false,"zero":false},"axis":{"values":[153,200,300],"labelExpr":"datum.value < 190 ? '' : datum.label"}},
     "color":{"field":"g","type":"nominal","scale":{"domain":["Controls","STEC-HUS (acute phase)","aHUS (acute phase)","Other"],"range":["#000000","#e52330","#48dc3c","#2f4fe0"]},"legend":{"title":null,"values":["Controls","STEC-HUS (acute phase)","aHUS (acute phase)"],"symbolSize":{"expr":"datum.value === 'Controls' ? 16 : 55"}}},
     "shape":{"field":"g","type":"nominal","scale":{"domain":["Controls","STEC-HUS (acute phase)","aHUS (acute phase)","Other"],"range":["circle","triangle-up","triangle-down","diamond"]},"legend":{"title":null,"values":["Controls","STEC-HUS (acute phase)","aHUS (acute phase)"],"symbolSize":{"expr":"datum.value === 'Controls' ? 16 : 55"}}},
     "size":{"condition":[{"test":"datum.g === 'Controls'","value":22},{"test":"datum.g === 'Other'","value":60}],"value":75}
   }},
  {"width":308,"height":90,"data":{"name":"d"},"transform":[{"filter":"datum.y <= 60"}],
   "layer":[
    {"data":{"values":[{"lo":0,"hi":11}]},"mark":{"type":"rect","color":"#d3dcd9"},"encoding":{
     "x":{"datum":0,"type":"quantitative","title":"Age (years)","scale":{"domain":[0,18],"nice":false},"axis":{"values":[0,1,2,3,4,5,6,7,8,9,10,11,12,13,14,15,16,17,18]}},"x2":{"datum":18},
     "y":{"field":"lo","type":"quantitative","title":"C3d/C3 ratio","scale":{"domain":[0,60],"nice":false},"axis":{"values":[0,20,40,60],"titleY":26}},"y2":{"field":"hi"}}},
    {"mark":{"type":"point","filled":true,"opacity":1,"strokeWidth":0},
     "encoding":{
      "x":{"field":"x","type":"quantitative","title":"Age (years)","scale":{"domain":[0,18],"nice":false},"axis":{"values":[0,1,2,3,4,5,6,7,8,9,10,11,12,13,14,15,16,17,18]}},
      "y":{"field":"y","type":"quantitative","title":"C3d/C3 ratio","scale":{"domain":[0,60],"nice":false},"axis":{"values":[0,20,40,60],"titleY":26}},
      "color":{"field":"g","type":"nominal","scale":{"domain":["Controls","STEC-HUS (acute phase)","aHUS (acute phase)","Other"],"range":["#000000","#e52330","#48dc3c","#2f4fe0"]},"legend":{"title":null,"values":["Controls","STEC-HUS (acute phase)","aHUS (acute phase)"],"symbolSize":{"expr":"datum.value === 'Controls' ? 16 : 55"}}},
      "shape":{"field":"g","type":"nominal","scale":{"domain":["Controls","STEC-HUS (acute phase)","aHUS (acute phase)","Other"],"range":["circle","triangle-up","triangle-down","diamond"]},"legend":{"title":null,"values":["Controls","STEC-HUS (acute phase)","aHUS (acute phase)"],"symbolSize":{"expr":"datum.value === 'Controls' ? 16 : 55"}}},
      "size":{"condition":[{"test":"datum.g === 'Controls'","value":22},{"test":"datum.g === 'Other'","value":60}],"value":75}
     }}
   ]}
 ]}
]},
{"spacing":11,"vconcat":[
 {"title":{"text":"e","dx":-52,"offset":-1},"width":308,"height":130,"data":{"name":"e"},
  "layer":[
   {"data":{"values":[{"lo":0,"hi":20}]},"mark":{"type":"rect","color":"#d3dcd9"},"encoding":{
     "x":{"datum":0,"type":"quantitative","title":"Age (years)","scale":{"domain":[0,18],"nice":false},"axis":{"values":[0,1,2,3,4,5,6,7,8,9,10,11,12,13,14,15,16,17,18]}},"x2":{"datum":18},
     "y":{"field":"lo","type":"quantitative","title":"C3bBbP (AU/ml)","scale":{"domain":[0,60],"nice":false},"axis":{"values":[0,20,40,60],"titleX":-34}},"y2":{"field":"hi"}}},
   {"mark":{"type":"point","filled":true,"opacity":1,"strokeWidth":0},
    "encoding":{
     "x":{"field":"x","type":"quantitative","title":"Age (years)","scale":{"domain":[0,18],"nice":false},"axis":{"values":[0,1,2,3,4,5,6,7,8,9,10,11,12,13,14,15,16,17,18]}},
     "y":{"field":"y","type":"quantitative","title":"C3bBbP (AU/ml)","scale":{"domain":[0,60],"nice":false},"axis":{"values":[0,20,40,60],"titleX":-34}},
     "color":{"field":"g","type":"nominal","scale":{"domain":["Controls","STEC-HUS (acute phase)","aHUS (acute phase)","Other"],"range":["#000000","#e52330","#48dc3c","#2f4fe0"]},"legend":{"title":null,"values":["Controls","STEC-HUS (acute phase)","aHUS (acute phase)"],"symbolSize":{"expr":"datum.value === 'Controls' ? 16 : 55"}}},
     "shape":{"field":"g","type":"nominal","scale":{"domain":["Controls","STEC-HUS (acute phase)","aHUS (acute phase)","Other"],"range":["circle","triangle-up","triangle-down","diamond"]},"legend":{"title":null,"values":["Controls","STEC-HUS (acute phase)","aHUS (acute phase)"],"symbolSize":{"expr":"datum.value === 'Controls' ? 16 : 55"}}},
     "size":{"condition":[{"test":"datum.g === 'Controls'","value":22},{"test":"datum.g === 'Other'","value":60}],"value":75}
    }}
  ]},
 {"title":{"text":"f","dx":-42,"offset":-1},"width":308,"height":130,"data":{"name":"f"},
  "layer":[
   {"data":{"values":[{"lo":0,"hi":17}]},"mark":{"type":"rect","color":"#d3dcd9"},"encoding":{
     "x":{"datum":0,"type":"quantitative","title":"Age (years)","scale":{"domain":[0,18],"nice":false},"axis":{"values":[0,1,2,3,4,5,6,7,8,9,10,11,12,13,14,15,16,17,18]}},"x2":{"datum":18},
     "y":{"field":"lo","type":"quantitative","title":"C3b/c (AU/ml)","scale":{"domain":[0,130],"nice":false},"axis":{"values":[0,25,50,75,100,125],"titleX":-34}},"y2":{"field":"hi"}}},
   {"mark":{"type":"point","filled":true,"opacity":1,"strokeWidth":0},
    "encoding":{
     "x":{"field":"x","type":"quantitative","title":"Age (years)","scale":{"domain":[0,18],"nice":false},"axis":{"values":[0,1,2,3,4,5,6,7,8,9,10,11,12,13,14,15,16,17,18]}},
     "y":{"field":"y","type":"quantitative","title":"C3b/c (AU/ml)","scale":{"domain":[0,130],"nice":false},"axis":{"values":[0,25,50,75,100,125],"titleX":-34}},
     "color":{"field":"g","type":"nominal","scale":{"domain":["Controls","STEC-HUS (acute phase)","aHUS (acute phase)","Other"],"range":["#000000","#e52330","#48dc3c","#2f4fe0"]},"legend":{"title":null,"values":["Controls","STEC-HUS (acute phase)","aHUS (acute phase)"],"symbolSize":{"expr":"datum.value === 'Controls' ? 16 : 55"}}},
     "shape":{"field":"g","type":"nominal","scale":{"domain":["Controls","STEC-HUS (acute phase)","aHUS (acute phase)","Other"],"range":["circle","triangle-up","triangle-down","diamond"]},"legend":{"title":null,"values":["Controls","STEC-HUS (acute phase)","aHUS (acute phase)"],"symbolSize":{"expr":"datum.value === 'Controls' ? 16 : 55"}}},
     "size":{"condition":[{"test":"datum.g === 'Controls'","value":22},{"test":"datum.g === 'Other'","value":60}],"value":75}
    }}
  ]},
 {"title":{"text":"g","dx":-40,"offset":-1},"width":308,"height":130,"data":{"name":"g"},
  "layer":[
   {"data":{"values":[{"lo":0,"hi":5.5}]},"mark":{"type":"rect","color":"#d3dcd9"},"encoding":{
     "x":{"datum":0,"type":"quantitative","title":"Age (years)","scale":{"domain":[0,18],"nice":false},"axis":{"values":[0,1,2,3,4,5,6,7,8,9,10,11,12,13,14,15,16,17,18]}},"x2":{"datum":18},
     "y":{"field":"lo","type":"quantitative","title":"TCC (AU)","scale":{"domain":[0,50],"nice":false},"axis":{"values":[0,10,20,30,40,50],"titleX":-34}},"y2":{"field":"hi"}}},
   {"mark":{"type":"point","filled":true,"opacity":1,"strokeWidth":0},
    "encoding":{
     "x":{"field":"x","type":"quantitative","title":"Age (years)","scale":{"domain":[0,18],"nice":false},"axis":{"values":[0,1,2,3,4,5,6,7,8,9,10,11,12,13,14,15,16,17,18]}},
     "y":{"field":"y","type":"quantitative","title":"TCC (AU)","scale":{"domain":[0,50],"nice":false},"axis":{"values":[0,10,20,30,40,50],"titleX":-34}},
     "color":{"field":"g","type":"nominal","scale":{"domain":["Controls","STEC-HUS (acute phase)","aHUS (acute phase)","Other"],"range":["#000000","#e52330","#48dc3c","#2f4fe0"]},"legend":{"title":null,"values":["Controls","STEC-HUS (acute phase)","aHUS (acute phase)"],"symbolSize":{"expr":"datum.value === 'Controls' ? 16 : 55"}}},
     "shape":{"field":"g","type":"nominal","scale":{"domain":["Controls","STEC-HUS (acute phase)","aHUS (acute phase)","Other"],"range":["circle","triangle-up","triangle-down","diamond"]},"legend":{"title":null,"values":["Controls","STEC-HUS (acute phase)","aHUS (acute phase)"],"symbolSize":{"expr":"datum.value === 'Controls' ? 16 : 55"}}},
     "size":{"condition":[{"test":"datum.g === 'Controls'","value":22},{"test":"datum.g === 'Other'","value":60}],"value":75}
    }}
  ]}
]}
]
}
